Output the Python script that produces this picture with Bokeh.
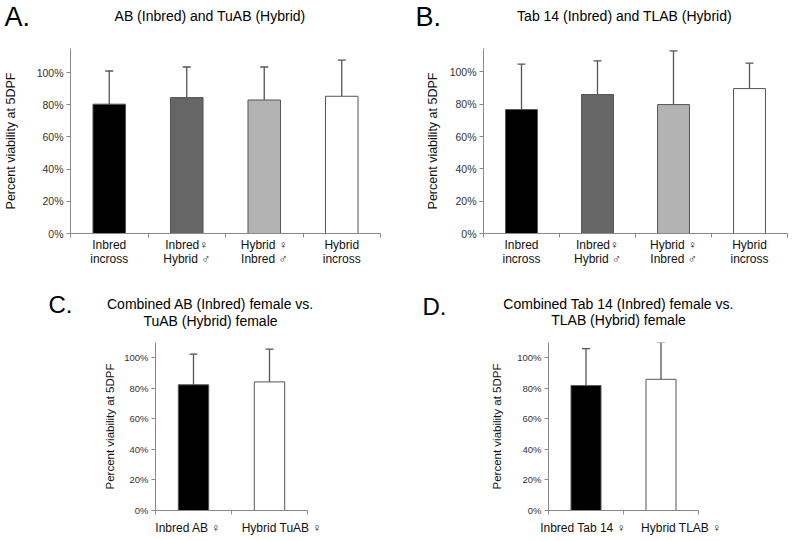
import numpy as np
from bokeh.plotting import figure
from bokeh.models import (ColumnDataSource, Range1d, FixedTicker, NumeralTickFormatter,
                          Whisker, TeeHead, Label)
from bokeh.layouts import column, row
from bokeh.embed import file_html
from bokeh.resources import INLINE

FONT = "Liberation Sans"
CAT_FONT = "Liberation Sans, Noto Sans CJK SC"

# ---------------- data ----------------
cross_labels = ["Inbred\nincross", "Inbred\u2640\nHybrid \u2642",
                "Hybrid \u2640\nInbred \u2642", "Hybrid\nincross"]
a_means = [0.804, 0.845, 0.830, 0.853]
a_sd = [0.206, 0.190, 0.205, 0.225]
b_means = [0.767, 0.860, 0.798, 0.897]
b_sd = [0.281, 0.208, 0.332, 0.157]
c_labels = ["Inbred AB \u2640", "Hybrid TuAB \u2640"]
c_means = [0.823, 0.842]
c_sd = [0.201, 0.214]
d_labels = ["Inbred Tab 14 \u2640", "Hybrid TLAB \u2640"]
d_means = [0.818, 0.859]
d_sd = [0.242, 0.243]
colors4 = ["#000000", "#666666", "#b3b3b3", "#ffffff"]
colors2 = ["#000000", "#ffffff"]
y_ticks = [0, 0.2, 0.4, 0.6, 0.8, 1.0]
y_label = "Percent viability at 5DPF"

W = 400
FULL_W = 800


def header(H, items):
    h = figure(width=FULL_W, height=H, x_range=Range1d(0, FULL_W), y_range=Range1d(0, H),
               x_axis_location=None, y_axis_location=None,
               min_border=0, min_border_left=0, min_border_right=0,
               min_border_top=0, min_border_bottom=0,
               output_backend="svg", toolbar_location=None)
    h.xgrid.visible = False
    h.ygrid.visible = False
    h.outline_line_color = None
    h.background_fill_color = "white"
    h.border_fill_color = "white"
    for txt, (tx, ty), size, align in items:
        h.add_layout(Label(x=tx, y=H - ty, text=txt, text_font=FONT,
                           text_font_size=size, text_align=align,
                           text_baseline="alphabetic", text_color="#000000"))
    return h


def panel(H, borders, labels, means, sd, colors, bw, ymax,
          tick_size, ylab_size, cat_size, ylab_standoff, cat_standoff, label_shift):
    L, R, T, B = borders
    n = len(labels)
    xs = np.arange(n) + 0.5
    upper = [m + s for m, s in zip(means, sd)]
    src = ColumnDataSource(dict(x=xs, mean=means, upper=upper, color=colors))
    p = figure(width=W, height=H, x_range=Range1d(0, n), y_range=Range1d(0, ymax),
               min_border_left=L, min_border_right=R, min_border_top=T,
               min_border_bottom=B, output_backend="svg", toolbar_location=None)
    p.outline_line_color = None
    p.xgrid.visible = False
    p.ygrid.visible = False
    p.background_fill_color = "white"
    p.border_fill_color = "white"

    p.vbar(x="x", top="mean", width=bw, bottom=0, fill_color="color",
           line_color="#555555", line_width=1, source=src)
    wh = Whisker(base="x", lower="mean", upper="upper", source=src, dimension="height",
                 line_color="#555555", line_width=1.3,
                 upper_head=TeeHead(size=8, line_color="#555555", line_width=1.3),
                 lower_head=None)
    p.add_layout(wh)

    ya = p.yaxis[0]
    ya.ticker = FixedTicker(ticks=y_ticks)
    ya.formatter = NumeralTickFormatter(format="0%")
    ya.axis_line_color = "#8a8a8a"
    ya.major_tick_line_color = "#8a8a8a"
    ya.major_tick_out = 4
    ya.major_tick_in = 0
    ya.minor_tick_out = 0
    ya.minor_tick_in = 0
    ya.major_label_text_font = FONT
    ya.major_label_text_font_size = tick_size
    ya.major_label_text_color = "#333333"
    ya.major_label_standoff = 3
    ya.axis_label = y_label
    ya.axis_label_text_font = FONT
    ya.axis_label_text_font_size = ylab_size
    ya.axis_label_text_font_style = "normal"
    ya.axis_label_text_color = "#111111"
    ya.axis_label_standoff = ylab_standoff

    lab_pos = [x + s for x, s in zip(xs, label_shift)]
    xa = p.xaxis[0]
    xa.ticker = FixedTicker(ticks=lab_pos, minor_ticks=list(range(n + 1)))
    xa.major_label_overrides = {float(x): lab for x, lab in zip(lab_pos, labels)}
    xa.axis_line_color = "#8a8a8a"
    xa.major_tick_out = 0
    xa.major_tick_in = 0
    xa.minor_tick_line_color = "#8a8a8a"
    xa.minor_tick_out = 4
    xa.minor_tick_in = 0
    xa.major_label_text_font = CAT_FONT
    xa.major_label_text_font_size = cat_size
    xa.major_label_text_color = "#111111"
    xa.major_label_text_line_height = 1.0
    xa.major_label_standoff = cat_standoff
    return p


hTop = header(40, [
    ("A.", (4, 16.5), "27px", "left"),
    ("AB (Inbred) and TuAB (Hybrid)", (209.5, 15), "14px", "center"),
    ("B.", (415, 16.5), "27px", "left"),
    ("Tab 14 (Inbred) and TLAB (Hybrid)", (624, 15), "14px", "center"),
])
pA = panel(240, (66, 20, 7, 46), cross_labels, a_means, a_sd, colors4, 0.42, 1.15,
           "10.5px", "12.5px", "12px", 16, 0, [0, 0, 0, 0])
pB = panel(240, (83, 13, 8, 47), cross_labels, b_means, b_sd, colors4, 0.42, 1.145,
           "10.5px", "12.5px", "12px", 7, 0, [0, 0, 0, 0])
hMid = header(52, [
    ("C.", (48, 24), "24px", "left"),
    ("Combined AB (Inbred) female vs.", (210, 23), "14px", "center"),
    ("TuAB (Hybrid) female", (210, 40), "14px", "center"),
    ("D.", (422, 26), "24px", "left"),
    ("Combined Tab 14 (Inbred) female vs.", (618, 23), "14px", "center"),
    ("TLAB (Hybrid) female", (618, 39), "14px", "center"),
])
pC = panel(209, (155, 93, 10, 31), c_labels, c_means, c_sd, colors2, 0.4, 1.10,
           "9.5px", "11.5px", "12px", 5, 6, [-0.07, 0.16])
pD = panel(209, (148, 102, 8, 31), d_labels, d_means, d_sd, colors2, 0.4, 1.10,
           "9.5px", "11.5px", "12px", 11, 6, [-0.04, 0.27])

layout = column(hTop, row(pA, pB), hMid, row(pC, pD))
open("out.html", "w").write(file_html(layout, INLINE))
